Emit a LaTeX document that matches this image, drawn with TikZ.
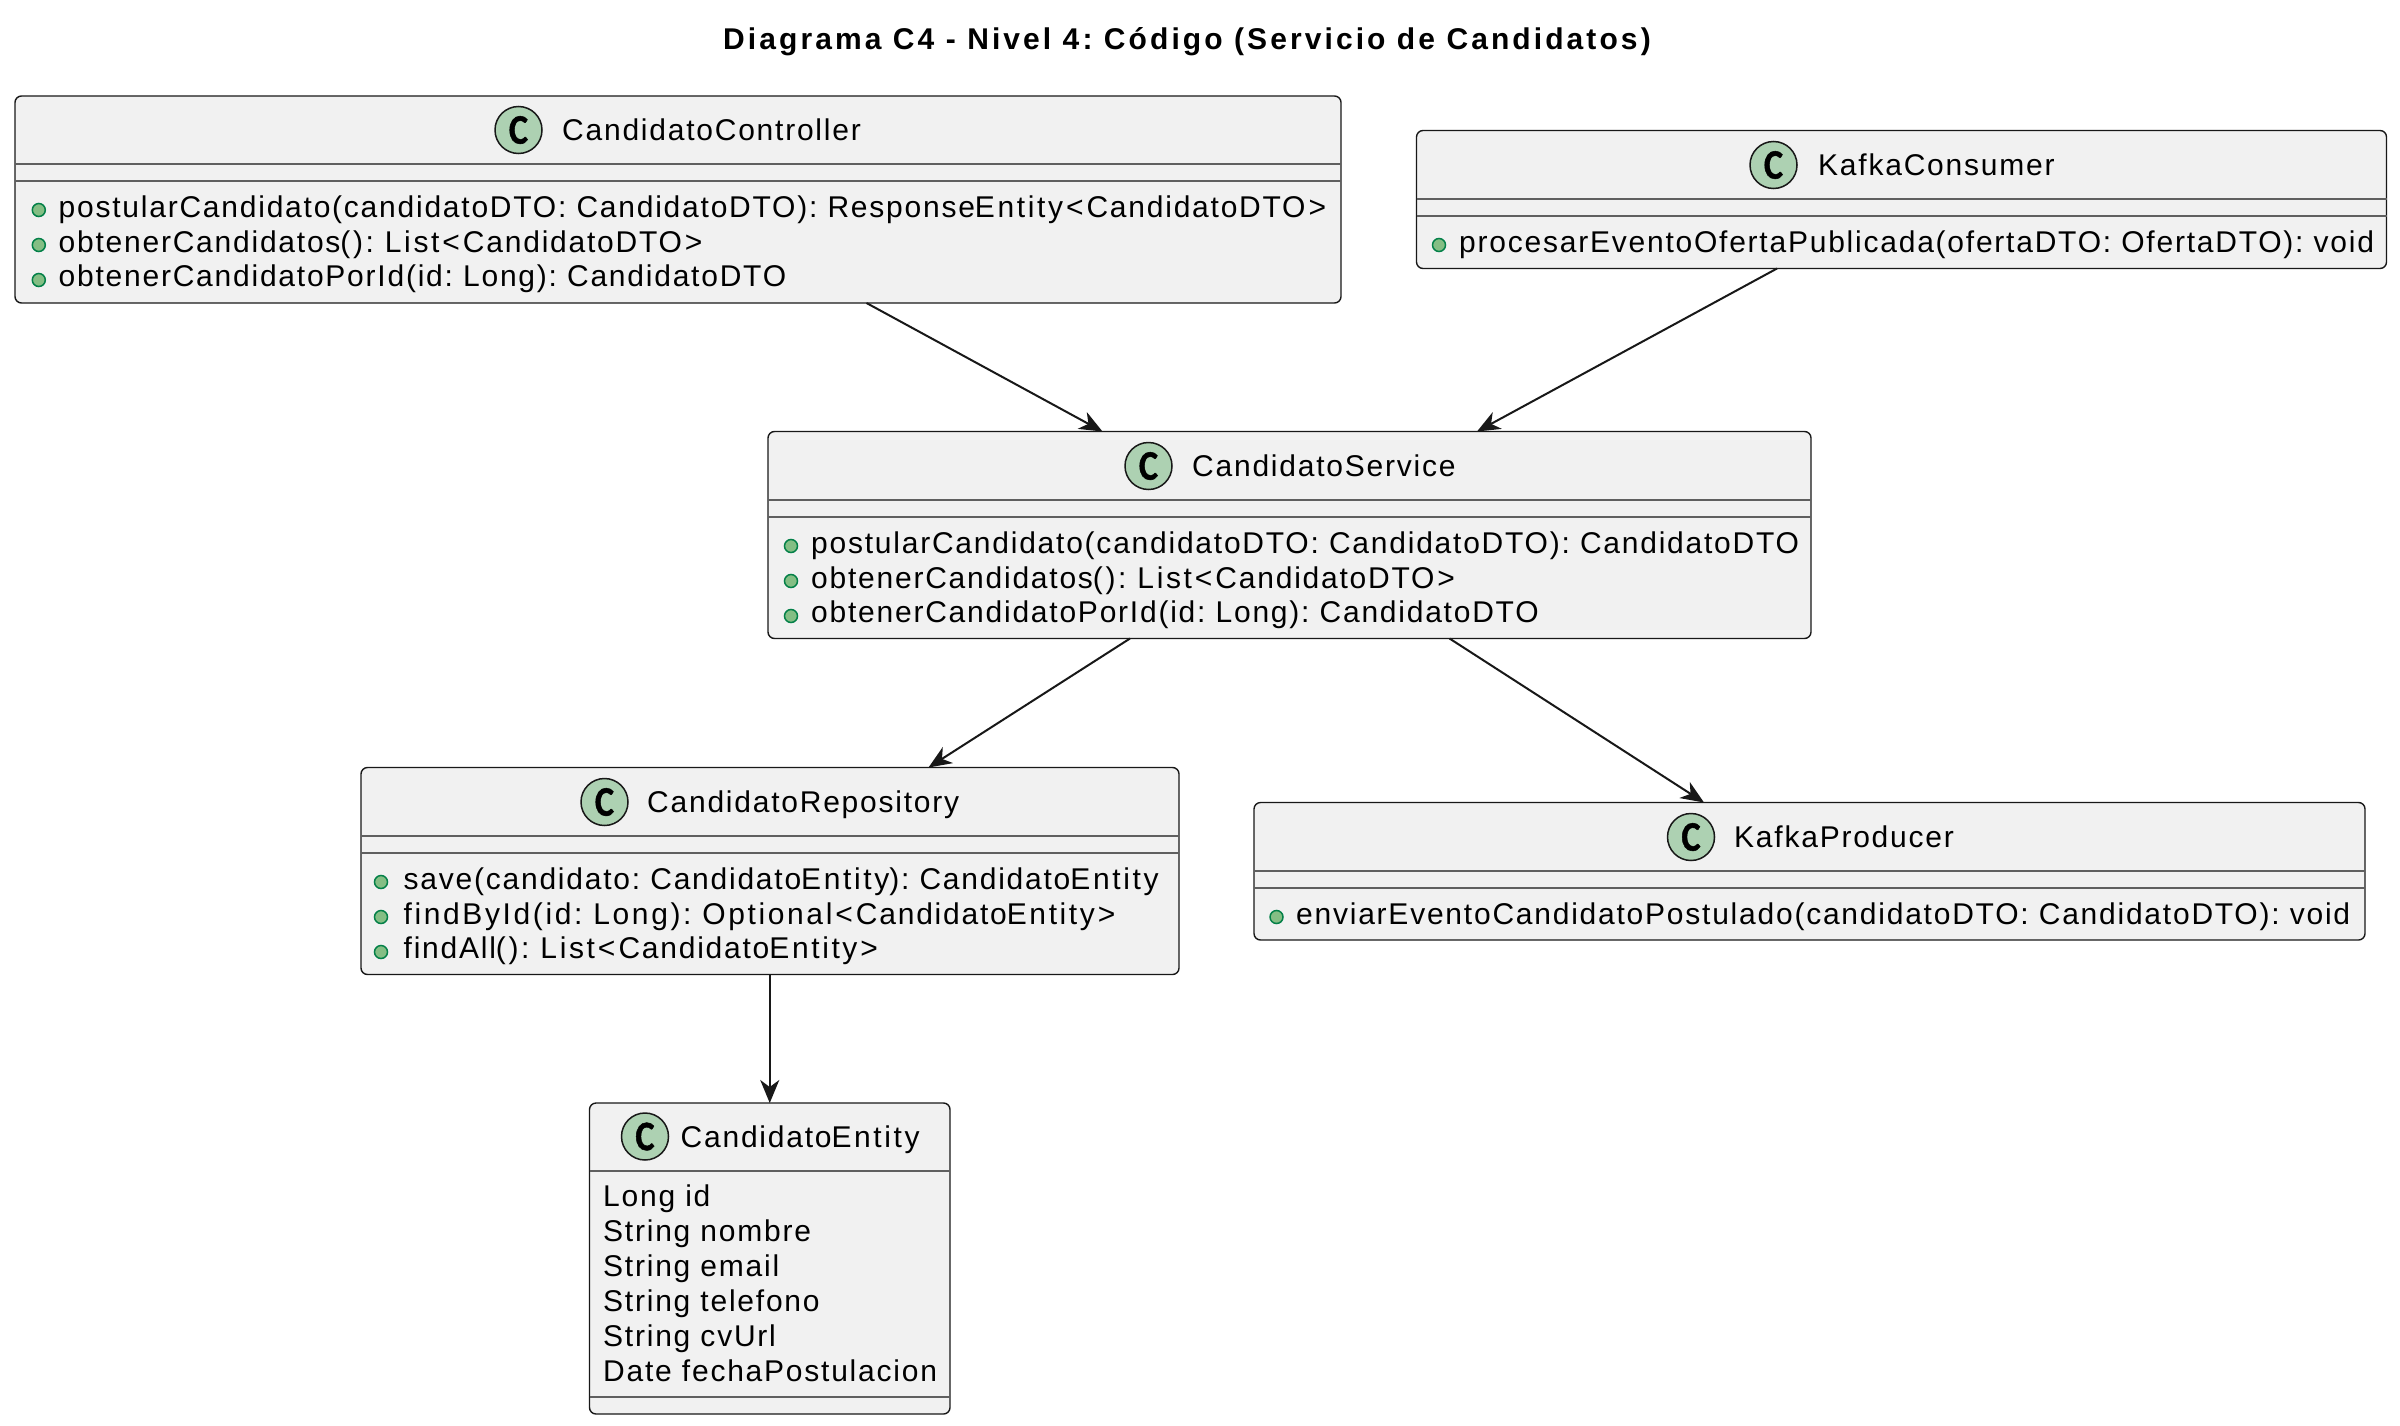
\documentclass[tikz,border=0pt]{standalone}
\usepackage{fontspec}
\usepackage{graphicx}
\setmainfont[LetterSpace=5.9]{Liberation Sans}
\newfontfamily\titlefont[LetterSpace=10.3]{Liberation Sans}
\newfontfamily\widefont[LetterSpace=8.7]{Liberation Sans}
\newfontfamily\glyphfont[BoldFeatures={FakeBold=1.2}]{Carlito}
\newcommand{\angL}{\kern3pt<\kern3pt}
\newcommand{\angR}{\kern3pt>\kern3pt}
\newcommand{\spotC}{\scalebox{0.86}[1]{C}}
\newcommand{\Ety}{{\widefont Entity}}
\usetikzlibrary{arrows.meta,calc}
\definecolor{boxfill}{HTML}{F1F1F1}
\definecolor{ink}{HTML}{181818}
\definecolor{sepline}{HTML}{5F5F5F}
\definecolor{spotfill}{HTML}{ADD1B2}
\definecolor{pubfill}{HTML}{84BE84}
\definecolor{publine}{HTML}{038048}
\tikzset{
  x=1pt,y=-1pt,
  classbox/.style={draw=ink,fill=boxfill,line width=1.4pt,rounded corners=6.5pt,inner sep=0pt,outer sep=0pt,anchor=north west},
  sepbar/.style={draw=sepline,line width=1.5pt},
  spot/.style={circle,draw=ink,fill=spotfill,line width=1.5pt,minimum size=47pt,inner sep=0pt,font=\glyphfont\bfseries\fontsize{42}{42}\selectfont},
  txt/.style={anchor=base west,inner sep=0pt,text=black,font=\frenchspacing\fontsize{30}{30}\selectfont},
  pub/.style={circle,draw=publine,fill=pubfill,line width=1.5pt,minimum size=13pt,inner sep=0pt},
  rel/.style={draw=ink,line width=2pt,-{Stealth[length=23pt,width=19pt,inset=7pt]}},
  titletxt/.style={anchor=base,inner sep=0pt,text=black,font=\frenchspacing\titlefont\bfseries\fontsize{30}{30}\selectfont},
}
% name, x1, y1, x2, y2, sep1, sep2
\newcommand{\classshape}[7]{%
  \pgfmathsetmacro{\boxw}{#4-#2}\pgfmathsetmacro{\boxh}{#5-#3}%
  \node[classbox,minimum width=\boxw pt,minimum height=\boxh pt] (#1) at (#2,#3) {};
  \draw[sepbar] (#2,#6) -- (#4,#6);
  \draw[sepbar] (#2,#7) -- (#4,#7);
}
\begin{document}
\begin{tikzpicture}
\useasboundingbox (0,0) rectangle (2400,1426);
\node[titletxt] (title) at (1187,49.5) {Diagrama C4 - Nivel 4: Código (Servicio de Candidatos)};

% CandidatoController
\classshape{ctrl}{15}{96}{1341}{303}{164}{181}
\node[spot] (ctrlspot) at (518.5,130) {\spotC};
\node[txt] (ctrlname) at (562,140) {CandidatoController};
\node[pub] (c1) at (38.8,210) {}; \node[txt] (ct1) at (58.5,217) {postularCandidato(candidatoDTO: CandidatoDTO): Response\Ety\angL CandidatoDTO\angR};
\node[pub] (c2) at (38.8,245) {}; \node[txt] (ct2) at (58.5,252) {obtenerCandidatos{\widefont (): List}\angL CandidatoDTO\angR};
\node[pub] (c3) at (38.8,280) {}; \node[txt] (ct3) at (58.5,286.5) {obtenerCandidatoPorId(id: Long): CandidatoDTO};

% KafkaConsumer
\classshape{cons}{1416.5}{130.5}{2386.5}{268.5}{199}{216}
\node[spot] (consspot) at (1773.5,165) {\spotC};
\node[txt] (consname) at (1818,175) {KafkaConsumer};
\node[pub] (k1) at (1439,245) {}; \node[txt] (kt1) at (1459,252) {procesarEventoOfertaPublicada(ofertaDTO: OfertaDTO): void};

% CandidatoService
\classshape{svc}{768}{431.5}{1811}{638.5}{500}{517}
\node[spot] (svcspot) at (1148.5,466) {\spotC};
\node[txt] (svcname) at (1192,476) {CandidatoService};
\node[pub] (s1) at (791,546) {}; \node[txt] (st1) at (811,553) {postularCandidato(candidatoDTO: CandidatoDTO): CandidatoDTO};
\node[pub] (s2) at (791,581) {}; \node[txt] (st2) at (811,588) {obtenerCandidatos{\widefont (): List}\angL CandidatoDTO\angR};
\node[pub] (s3) at (791,616) {}; \node[txt] (st3) at (811,622.5) {obtenerCandidatoPorId(id: Long): CandidatoDTO};

% CandidatoRepository
\classshape{repo}{361}{767.5}{1179}{974.5}{836}{853}
\node[spot] (repospot) at (604.5,802) {\spotC};
\node[txt] (reponame) at (647,812) {CandidatoRepository};
\node[pub] (r1) at (381,882) {}; \node[txt] (rt1) at (403.5,889) {save(candidato: Candidato\Ety): Candidato\Ety};
\node[pub] (r2) at (381,917) {}; \node[txt] (rt2) at (403.5,924) {{\widefont findById(id: Long): Optional}\angL Candidato\Ety\angR};
\node[pub] (r3) at (381,952) {}; \node[txt] (rt3) at (403.5,958.5) {findAll{\widefont (): List}\angL Candidato\Ety\angR};

% KafkaProducer
\classshape{prod}{1254}{802.5}{2365}{940}{871}{888}
\node[spot] (prodspot) at (1691,837) {\spotC};
\node[txt] (prodname) at (1734,847) {KafkaProducer};
\node[pub] (p1) at (1276.5,917) {}; \node[txt] (pt1) at (1296,924) {enviarEventoCandidatoPostulado(candidatoDTO: CandidatoDTO): void};

% CandidatoEntity
\classshape{ent}{589.5}{1103}{950}{1414}{1171}{1397}
\node[spot] (entspot) at (645,1136.5) {\spotC};
\node[txt] (entname) at (680.5,1147) {Candidato\Ety};
\node[txt] (e1) at (603,1206) {Long id};
\node[txt] (e2) at (603,1241) {String nombre};
\node[txt] (e3) at (603,1276) {String email};
\node[txt] (e4) at (603,1311) {String telefono};
\node[txt] (e5) at (603,1346) {String cvUrl};
\node[txt] (e6) at (603,1381) {Date fechaPostulacion};

% Relations
\draw[rel] ([xshift=851.5pt]ctrl.south west) -- ([xshift=334.5pt]svc.north west);
\draw[rel] ([xshift=360.5pt]cons.south west) -- ([xshift=709pt]svc.north west);
\draw[rel] ([xshift=362pt]svc.south west) -- ([xshift=567.5pt]repo.north west);
\draw[rel] ([xshift=681.5pt]svc.south west) -- ([xshift=450pt]prod.north west);
\draw[rel] (repo.south -| ent.north) -- (ent.north);
\end{tikzpicture}
\end{document}
